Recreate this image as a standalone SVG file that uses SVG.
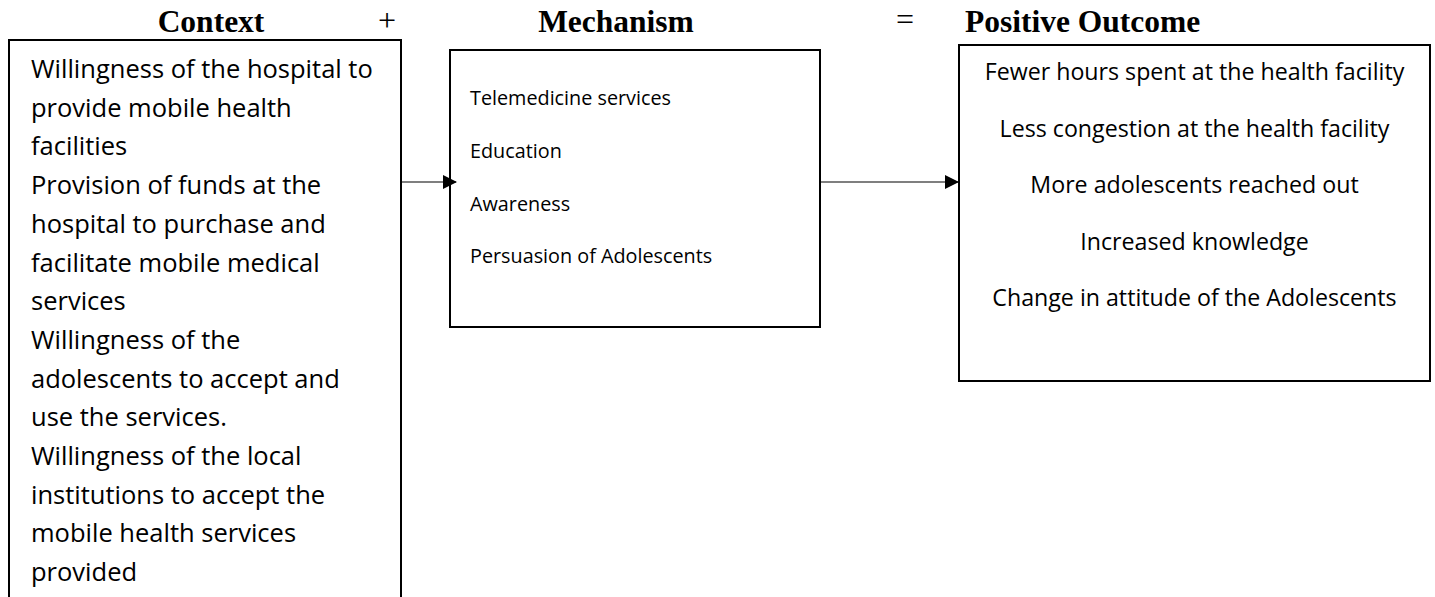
<svg xmlns="http://www.w3.org/2000/svg" width="1435" height="597" viewBox="0 0 1435 597">
  <style>
    .box { fill: #ffffff; stroke: #000000; stroke-width: 2; }
    .head { font-family: "Liberation Serif", "Times New Roman", serif; font-weight: bold; font-size: 31.5px; fill: #000; }
    .op { font-family: "Liberation Serif", "Times New Roman", serif; font-size: 32px; fill: #000; }
    .ctx { font-family: "Open Sans", "Noto Sans", sans-serif; font-size: 25.5px; fill: #000; }
    .mech { font-family: "Open Sans", "Noto Sans", sans-serif; font-size: 19.8px; fill: #000; }
    .out { font-family: "Open Sans", "Noto Sans", sans-serif; font-size: 23.2px; fill: #000; text-anchor: middle; }
    .link { stroke: #000; stroke-width: 1.2; fill: none; }
  </style>
  <defs>
    <marker id="arrow" markerWidth="14" markerHeight="14" refX="13" refY="7" orient="auto" markerUnits="userSpaceOnUse">
      <path d="M0,0 L14,7 L0,14 Z" fill="#000"/>
    </marker>
  </defs>
  <rect width="1435" height="597" fill="#ffffff"/>

  <!-- column headings and operators -->
  <g id="headings">
    <text class="head" x="211" y="32" text-anchor="middle">Context</text>
    <text class="op" x="387" y="31" text-anchor="middle">+</text>
    <text class="head" x="616" y="32" text-anchor="middle">Mechanism</text>
    <text class="op" x="905" y="30" text-anchor="middle">=</text>
    <text class="head" x="965" y="32">Positive Outcome</text>
  </g>

  <!-- Context -->
  <g id="context">
    <rect class="box" x="9" y="40" width="392" height="580"/>
    <text class="ctx" x="31" y="78">Willingness of the hospital to</text>
    <text class="ctx" x="31" y="116.7">provide mobile health</text>
    <text class="ctx" x="31" y="155.4">facilities</text>
    <text class="ctx" x="31" y="194.1">Provision of funds at the</text>
    <text class="ctx" x="31" y="232.8">hospital to purchase and</text>
    <text class="ctx" x="31" y="271.5">facilitate mobile medical</text>
    <text class="ctx" x="31" y="310.2">services</text>
    <text class="ctx" x="31" y="348.9">Willingness of the</text>
    <text class="ctx" x="31" y="387.6">adolescents to accept and</text>
    <text class="ctx" x="31" y="426.3">use the services.</text>
    <text class="ctx" x="31" y="465">Willingness of the local</text>
    <text class="ctx" x="31" y="503.7">institutions to accept the</text>
    <text class="ctx" x="31" y="542.4">mobile health services</text>
    <text class="ctx" x="31" y="581.1">provided</text>
  </g>

  <!-- Mechanism -->
  <g id="mechanism">
    <rect class="box" x="450" y="50" width="370" height="277"/>
    <text class="mech" x="470" y="105">Telemedicine services</text>
    <text class="mech" x="470" y="158">Education</text>
    <text class="mech" x="470" y="211">Awareness</text>
    <text class="mech" x="470" y="263">Persuasion of Adolescents</text>
  </g>

  <!-- Positive Outcome -->
  <g id="outcome">
    <rect class="box" x="959" y="45" width="471" height="336"/>
    <text class="out" x="1194.5" y="80">Fewer hours spent at the health facility</text>
    <text class="out" x="1194.5" y="136.5">Less congestion at the health facility</text>
    <text class="out" x="1194.5" y="193">More adolescents reached out</text>
    <text class="out" x="1194.5" y="249.5">Increased knowledge</text>
    <text class="out" x="1194.5" y="306">Change in attitude of the Adolescents</text>
  </g>

  <!-- connectors -->
  <g id="connectors">
    <line class="link" x1="401" y1="182" x2="456" y2="182" marker-end="url(#arrow)"/>
    <line class="link" x1="820" y1="182" x2="958" y2="182" marker-end="url(#arrow)"/>
  </g>
</svg>
